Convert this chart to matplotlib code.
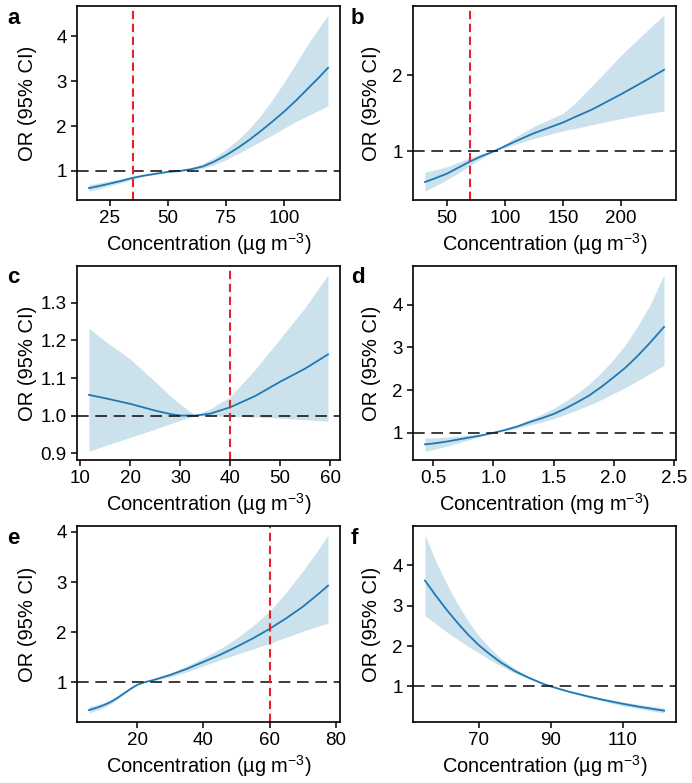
import matplotlib
matplotlib.use("Agg")
import matplotlib.pyplot as plt

plt.rcParams["font.family"] = ["Liberation Sans", "DejaVu Sans"]
plt.rcParams["mathtext.fontset"] = "custom"
plt.rcParams["mathtext.rm"] = "Liberation Sans"
plt.rcParams["mathtext.it"] = "Liberation Sans:italic"

# ---- panel data: exposure, OR estimate, lower CI, upper CI ----
a_x = [16, 20, 25, 30, 35, 40, 45, 50, 55, 60, 65, 70, 75, 80, 85, 90, 95, 100, 105, 110, 115, 119]
a_or = [0.62, 0.66, 0.72, 0.78, 0.85, 0.90, 0.94, 0.98, 1.00, 1.04, 1.10, 1.21, 1.35, 1.51, 1.69, 1.89, 2.10, 2.32, 2.56, 2.82, 3.08, 3.30]
a_lo = [0.55, 0.60, 0.67, 0.74, 0.82, 0.88, 0.93, 0.97, 1.00, 1.02, 1.06, 1.14, 1.25, 1.38, 1.52, 1.66, 1.80, 1.95, 2.10, 2.22, 2.35, 2.45]
a_hi = [0.70, 0.73, 0.78, 0.83, 0.88, 0.92, 0.96, 0.99, 1.00, 1.07, 1.16, 1.30, 1.48, 1.69, 1.94, 2.24, 2.59, 2.97, 3.38, 3.80, 4.18, 4.48]

b_x = [31, 40, 50, 60, 70, 80, 90, 100, 110, 125, 150, 160, 175, 190, 200, 220, 237]
b_or = [0.60, 0.65, 0.71, 0.79, 0.87, 0.94, 1.00, 1.07, 1.14, 1.24, 1.38, 1.45, 1.55, 1.67, 1.75, 1.92, 2.07]
b_lo = [0.48, 0.55, 0.63, 0.72, 0.82, 0.91, 1.00, 1.05, 1.10, 1.17, 1.27, 1.30, 1.35, 1.40, 1.43, 1.49, 1.53]
b_hi = [0.73, 0.76, 0.80, 0.86, 0.92, 0.97, 1.00, 1.10, 1.20, 1.33, 1.50, 1.63, 1.86, 2.10, 2.26, 2.55, 2.79]

c_x = [11.7, 15, 20, 25, 28, 30, 33, 36, 40, 45, 50, 55, 59.6]
c_or = [1.055, 1.046, 1.031, 1.013, 1.004, 1.000, 1.000, 1.005, 1.022, 1.052, 1.090, 1.125, 1.163]
c_lo = [0.905, 0.920, 0.942, 0.964, 0.978, 0.987, 1.000, 0.999, 0.998, 0.996, 0.993, 0.989, 0.985]
c_hi = [1.232, 1.198, 1.150, 1.090, 1.052, 1.030, 1.000, 1.018, 1.050, 1.123, 1.205, 1.288, 1.375]

d_x = [0.43, 0.5, 0.6, 0.7, 0.8, 0.9, 1.0, 1.1, 1.2, 1.3, 1.4, 1.5, 1.6, 1.7, 1.8, 1.9, 2.0, 2.1, 2.2, 2.3, 2.42]
d_or = [0.73, 0.75, 0.79, 0.84, 0.89, 0.94, 1.00, 1.07, 1.15, 1.25, 1.34, 1.44, 1.57, 1.72, 1.88, 2.08, 2.30, 2.53, 2.80, 3.10, 3.48]
d_lo = [0.57, 0.61, 0.68, 0.76, 0.84, 0.92, 1.00, 1.05, 1.11, 1.18, 1.25, 1.33, 1.43, 1.54, 1.65, 1.78, 1.92, 2.06, 2.22, 2.38, 2.58]
d_hi = [0.88, 0.88, 0.90, 0.92, 0.95, 0.97, 1.00, 1.09, 1.19, 1.31, 1.43, 1.57, 1.74, 1.93, 2.15, 2.42, 2.72, 3.07, 3.50, 3.98, 4.70]

e_x = [5.5, 8, 10, 12, 14, 16, 18, 20, 22, 25, 30, 35, 40, 45, 50, 55, 60, 65, 70, 75, 77.6]
e_or = [0.45, 0.50, 0.55, 0.61, 0.69, 0.78, 0.87, 0.95, 1.00, 1.05, 1.15, 1.27, 1.41, 1.55, 1.71, 1.88, 2.07, 2.28, 2.51, 2.78, 2.93]
e_lo = [0.39, 0.45, 0.50, 0.57, 0.66, 0.76, 0.86, 0.95, 1.00, 1.04, 1.11, 1.21, 1.33, 1.45, 1.56, 1.67, 1.78, 1.90, 2.02, 2.13, 2.18]
e_hi = [0.52, 0.56, 0.60, 0.65, 0.72, 0.80, 0.88, 0.96, 1.00, 1.07, 1.19, 1.33, 1.49, 1.67, 1.88, 2.13, 2.42, 2.80, 3.22, 3.68, 3.94]

f_x = [55, 58, 61, 64, 67, 70, 73, 76, 80, 84, 88, 90, 95, 100, 105, 110, 115, 121.5]
f_or = [3.62, 3.25, 2.90, 2.58, 2.28, 2.02, 1.80, 1.60, 1.38, 1.21, 1.06, 1.00, 0.87, 0.76, 0.66, 0.57, 0.49, 0.40]
f_lo = [2.75, 2.55, 2.35, 2.17, 1.99, 1.83, 1.66, 1.51, 1.33, 1.18, 1.05, 1.00, 0.86, 0.73, 0.62, 0.52, 0.44, 0.34]
f_hi = [4.75, 4.10, 3.55, 3.05, 2.62, 2.25, 1.96, 1.70, 1.44, 1.24, 1.07, 1.00, 0.89, 0.79, 0.70, 0.62, 0.55, 0.47]

# reference cut-offs (red dashed), None = no line
cutoffs = [35, 70, 40, None, 60, None]
xticks = [[25, 50, 75, 100], [50, 100, 150, 200], [10, 20, 30, 40, 50, 60],
          [0.5, 1.0, 1.5, 2.0, 2.5], [20, 40, 60, 80], [70, 90, 110]]
yticks = [[1, 2, 3, 4], [1, 2], [0.9, 1.0, 1.1, 1.2, 1.3],
          [1, 2, 3, 4], [1, 2, 3, 4], [1, 2, 3, 4]]
xlabels = ["Concentration (µg m$^{-3}$)"] * 3 + ["Concentration (mg m$^{-3}$)"] + ["Concentration (µg m$^{-3}$)"] * 2
letters = ["a", "b", "c", "d", "e", "f"]

panels = [(a_x, a_or, a_lo, a_hi), (b_x, b_or, b_lo, b_hi), (c_x, c_or, c_lo, c_hi),
          (d_x, d_or, d_lo, d_hi), (e_x, e_or, e_lo, e_hi), (f_x, f_or, f_lo, f_hi)]

W, H = 692, 783
fig = plt.figure(figsize=(W / 100, H / 100), dpi=100)

lefts = [77, 413]
letter_x = [7, 351]
ylab_x = [-0.152, -0.122]
rows = [(6, 200), (266, 460), (526, 722)]

LINE = "#2078b4"
BAND = "#c6dfec"
RED = "#e8202a"

for i, (x, est, lo, hi) in enumerate(panels):
    col = i % 2
    l = lefts[col]
    top, bot = rows[i // 2]
    ax = fig.add_axes([l / W, (H - bot) / H, 263 / W, (bot - top) / H])
    ax.fill_between(x, lo, hi, color=BAND, linewidth=0, alpha=0.9)
    ax.plot(x, est, color=LINE, linewidth=1.3)
    ax.axhline(1, color="#1a1a1a", linestyle=(0, (7, 4)), linewidth=1.2)
    if cutoffs[i] is not None:
        ax.axvline(cutoffs[i], color=RED, linestyle=(0, (4, 2.2)), linewidth=1.5)
    ax.set_xticks(xticks[i])
    ax.set_yticks(yticks[i])
    if i == 2:
        ax.set_yticklabels([f"{v:.1f}" for v in yticks[i]])
    elif i == 3:
        ax.set_xticklabels([f"{v:.1f}" for v in xticks[i]])
    ax.tick_params(labelsize=13.5, length=4, width=1.1)
    for s in ax.spines.values():
        s.set_linewidth(1.2)
    ax.set_xlabel(xlabels[i], fontsize=14.4, labelpad=3)
    ax.set_ylabel("OR (95% CI)", fontsize=14.5)
    ax.yaxis.set_label_coords(ylab_x[col], 0.5)
    fig.text(letter_x[col] / W, (H - top - 12) / H, letters[i], fontsize=16,
             fontweight="bold", ha="left", va="center")

fig.savefig("out.png", dpi=100)
